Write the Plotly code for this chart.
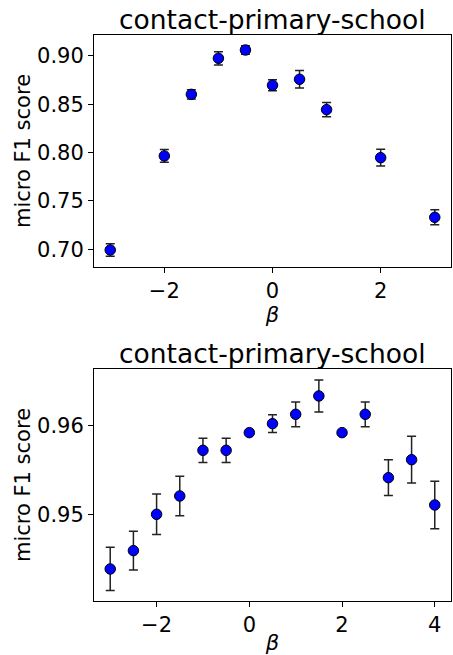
import plotly.graph_objects as go

# Top panel data
beta_top = [-3, -2, -1.5, -1, -0.5, 0, 0.5, 1, 2, 3]
f1_top = [0.6993, 0.7966, 0.8603, 0.8976, 0.9062, 0.8697, 0.8759, 0.8445, 0.7948, 0.7331]
err_top = [0.0065, 0.0066, 0.0047, 0.0069, 0.0043, 0.0057, 0.0091, 0.0074, 0.0086, 0.0078]

# Bottom panel data
beta_bot = [-3, -2.5, -2, -1.5, -1, -0.5, 0, 0.5, 1, 1.5, 2, 2.5, 3, 3.5, 4]
f1_bot = [0.94386, 0.94592, 0.9500, 0.95206, 0.95719, 0.95719, 0.95918, 0.96019,
          0.96124, 0.9633, 0.95918, 0.96124, 0.95412, 0.95614, 0.95105]
err_bot = [0.00243, 0.00217, 0.00227, 0.00221, 0.00137, 0.00137, 0.0, 0.0010,
           0.00139, 0.0018, 0.0, 0.00139, 0.0020, 0.00262, 0.00266]

title_text = "contact-primary-school"
ylabel = "micro F1 score"
xlabel = "<i>β</i>"

yticks_top = [0.70, 0.75, 0.80, 0.85, 0.90]
yticks_bot = [0.95, 0.96]
xticks_top = [-2, 0, 2]
xticks_bot = [-2, 0, 2, 4]

FONT = "DejaVu Sans"

fig = go.Figure()

def add_series(x, y, e, xa, ya):
    fig.add_trace(go.Scatter(
        x=x, y=y, mode="markers", xaxis=xa, yaxis=ya,
        marker=dict(color="#0000ff", size=10.5, line=dict(color="black", width=1)),
        error_y=dict(type="data", array=e, visible=True, color="#222222",
                     thickness=1.5, width=4.5),
        showlegend=False,
    ))

add_series(beta_top, f1_top, err_top, "x", "y")
add_series(beta_bot, f1_bot, err_bot, "x2", "y2")

axis_common = dict(
    showline=True, mirror=True, linecolor="black", linewidth=1,
    ticks="outside", ticklen=5, tickwidth=1, tickcolor="black",
    showgrid=False, zeroline=False, automargin=False,
    tickfont=dict(family=FONT, size=21, color="black"),
)

top_dom = [0.5901, 1.0]
bot_dom = [0.0, 0.4099]

fig.update_layout(
    width=453, height=655,
    margin=dict(l=94, r=2, t=35, b=54, autoexpand=False),
    paper_bgcolor="white", plot_bgcolor="white",
    font=dict(family=FONT, color="black"),
    hovermode=False,
    xaxis=dict(axis_common, domain=[0, 1], anchor="y", range=[-3.3, 3.3],
               tickvals=xticks_top,
               title=dict(text=xlabel, font=dict(family=FONT, size=21), standoff=2)),
    yaxis=dict(axis_common, domain=top_dom, anchor="x", range=[0.6817, 0.9217],
               tickvals=yticks_top, tickformat=".2f",
               title=dict(text=ylabel, font=dict(family=FONT, size=21), standoff=0)),
    xaxis2=dict(axis_common, domain=[0, 1], anchor="y2", range=[-3.35, 4.35],
                tickvals=xticks_bot,
                title=dict(text=xlabel, font=dict(family=FONT, size=21), standoff=2)),
    yaxis2=dict(axis_common, domain=bot_dom, anchor="x2", range=[0.94026, 0.96633],
                tickvals=yticks_bot, tickformat=".2f",
                title=dict(text=ylabel, font=dict(family=FONT, size=21), standoff=0)),
)

for dom in (top_dom, bot_dom):
    fig.add_annotation(
        text=title_text, xref="paper", yref="paper", x=0.5, y=dom[1],
        xanchor="center", yanchor="bottom", showarrow=False, yshift=-2,
        font=dict(family=FONT, size=26.5, color="black"),
    )

# remove the page's default 8px body margin so the figure fills the window
fig.write_html("out.html", config={"displayModeBar": False, "staticPlot": True},
               post_script="document.body.style.margin='0';")
